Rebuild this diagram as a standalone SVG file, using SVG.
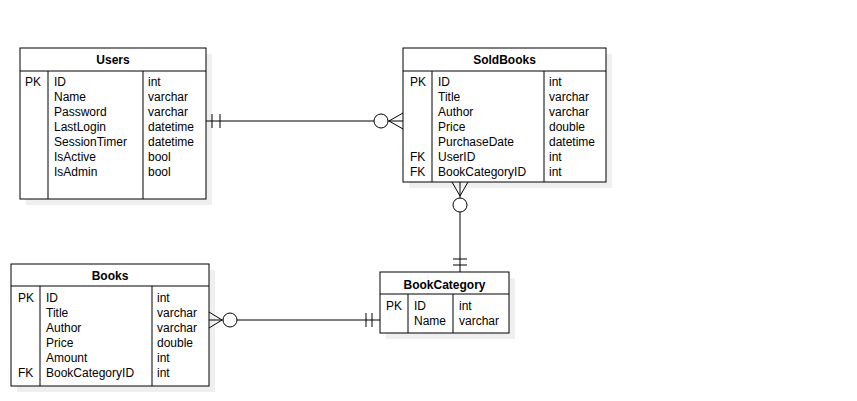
<svg xmlns="http://www.w3.org/2000/svg" width="857" height="401" viewBox="0 0 857 401">
  <style>
    .shadow { fill: #efefef; }
    .box { fill: #ffffff; stroke: #000000; stroke-width: 1; }
    .sep { stroke: #000000; stroke-width: 1; fill: none; }
    .title { font-family: "Liberation Sans", Arial, sans-serif; font-size: 12px; font-weight: bold; fill: #000000; text-anchor: middle; }
    .cell { font-family: "Liberation Sans", Arial, sans-serif; font-size: 12px; fill: #000000; }
    .edge { stroke: #000000; stroke-width: 1; fill: none; }
    .ring { stroke: #000000; stroke-width: 1; fill: #ffffff; }
  </style>
  <rect width="857" height="401" fill="#ffffff"/>

  <!-- Users table -->
  <g id="users">
    <rect class="shadow" x="26" y="54" width="186" height="151"/>
    <rect class="box" x="20" y="48" width="186" height="151"/>
    <line class="sep" x1="20" y1="71" x2="206" y2="71"/>
    <line class="sep" x1="48" y1="71" x2="48" y2="199"/>
    <line class="sep" x1="143" y1="71" x2="143" y2="199"/>
    <text class="title" x="113" y="64">Users</text>
    <text class="cell" x="25" y="86">PK</text>
    <text class="cell" x="54" y="86">ID</text>
    <text class="cell" x="54" y="101">Name</text>
    <text class="cell" x="54" y="116">Password</text>
    <text class="cell" x="54" y="131">LastLogin</text>
    <text class="cell" x="54" y="146">SessionTimer</text>
    <text class="cell" x="54" y="161">IsActive</text>
    <text class="cell" x="54" y="176">IsAdmin</text>
    <text class="cell" x="148" y="86">int</text>
    <text class="cell" x="148" y="101">varchar</text>
    <text class="cell" x="148" y="116">varchar</text>
    <text class="cell" x="148" y="131">datetime</text>
    <text class="cell" x="148" y="146">datetime</text>
    <text class="cell" x="148" y="161">bool</text>
    <text class="cell" x="148" y="176">bool</text>
  </g>

  <!-- SoldBooks table -->
  <g id="soldbooks">
    <rect class="shadow" x="409" y="54" width="203" height="134"/>
    <rect class="box" x="403" y="48" width="203" height="134"/>
    <line class="sep" x1="403" y1="71" x2="606" y2="71"/>
    <line class="sep" x1="432" y1="71" x2="432" y2="182"/>
    <line class="sep" x1="544" y1="71" x2="544" y2="182"/>
    <text class="title" x="504.5" y="64">SoldBooks</text>
    <text class="cell" x="410" y="86">PK</text>
    <text class="cell" x="410" y="161">FK</text>
    <text class="cell" x="410" y="176">FK</text>
    <text class="cell" x="438" y="86">ID</text>
    <text class="cell" x="438" y="101">Title</text>
    <text class="cell" x="438" y="116">Author</text>
    <text class="cell" x="438" y="131">Price</text>
    <text class="cell" x="438" y="146">PurchaseDate</text>
    <text class="cell" x="438" y="161">UserID</text>
    <text class="cell" x="438" y="176">BookCategoryID</text>
    <text class="cell" x="549" y="86">int</text>
    <text class="cell" x="549" y="101">varchar</text>
    <text class="cell" x="549" y="116">varchar</text>
    <text class="cell" x="549" y="131">double</text>
    <text class="cell" x="549" y="146">datetime</text>
    <text class="cell" x="549" y="161">int</text>
    <text class="cell" x="549" y="176">int</text>
  </g>

  <!-- Books table -->
  <g id="books">
    <rect class="shadow" x="17" y="270" width="198" height="122"/>
    <rect class="box" x="11" y="264" width="198" height="122"/>
    <line class="sep" x1="11" y1="286" x2="209" y2="286"/>
    <line class="sep" x1="40" y1="286" x2="40" y2="386"/>
    <line class="sep" x1="152" y1="286" x2="152" y2="386"/>
    <text class="title" x="110" y="280">Books</text>
    <text class="cell" x="18" y="302">PK</text>
    <text class="cell" x="18" y="377">FK</text>
    <text class="cell" x="46" y="302">ID</text>
    <text class="cell" x="46" y="317">Title</text>
    <text class="cell" x="46" y="332">Author</text>
    <text class="cell" x="46" y="347">Price</text>
    <text class="cell" x="46" y="362">Amount</text>
    <text class="cell" x="46" y="377">BookCategoryID</text>
    <text class="cell" x="157" y="302">int</text>
    <text class="cell" x="157" y="317">varchar</text>
    <text class="cell" x="157" y="332">varchar</text>
    <text class="cell" x="157" y="347">double</text>
    <text class="cell" x="157" y="362">int</text>
    <text class="cell" x="157" y="377">int</text>
  </g>

  <!-- BookCategory table -->
  <g id="bookcategory">
    <rect class="shadow" x="386" y="278" width="129" height="61"/>
    <rect class="box" x="380" y="272" width="129" height="61"/>
    <line class="sep" x1="380" y1="294" x2="509" y2="294"/>
    <line class="sep" x1="408" y1="294" x2="408" y2="333"/>
    <line class="sep" x1="453" y1="294" x2="453" y2="333"/>
    <text class="title" x="444.5" y="289">BookCategory</text>
    <text class="cell" x="386" y="310">PK</text>
    <text class="cell" x="414" y="310">ID</text>
    <text class="cell" x="414" y="325">Name</text>
    <text class="cell" x="459" y="310">int</text>
    <text class="cell" x="459" y="325">varchar</text>
  </g>

  <!-- Relationships -->
  <g id="connectors">
    <!-- Users (one) to SoldBooks (zero or many) -->
    <g id="users-soldbooks">
      <line class="edge" x1="206" y1="121" x2="403" y2="121"/>
      <line class="edge" x1="212" y1="114" x2="212" y2="128"/>
      <line class="edge" x1="220" y1="114" x2="220" y2="128"/>
      <circle class="ring" cx="381" cy="121" r="7"/>
      <path class="edge" d="M389,121 L403,113 M389,121 L403,129"/>
    </g>
    <!-- BookCategory (one) to SoldBooks (zero or many) -->
    <g id="bookcategory-soldbooks">
      <line class="edge" x1="460" y1="182" x2="460" y2="272"/>
      <path class="edge" d="M460,196 L452,182 M460,196 L468,182"/>
      <circle class="ring" cx="460" cy="205" r="7"/>
      <line class="edge" x1="453" y1="259" x2="467" y2="259"/>
      <line class="edge" x1="453" y1="265" x2="467" y2="265"/>
    </g>
    <!-- BookCategory (one) to Books (zero or many) -->
    <g id="bookcategory-books">
      <line class="edge" x1="209" y1="320" x2="380" y2="320"/>
      <path class="edge" d="M222,320 L209,312 M222,320 L209,328"/>
      <circle class="ring" cx="230" cy="320" r="7"/>
      <line class="edge" x1="366" y1="313" x2="366" y2="327"/>
      <line class="edge" x1="372" y1="313" x2="372" y2="327"/>
    </g>
  </g>
</svg>
